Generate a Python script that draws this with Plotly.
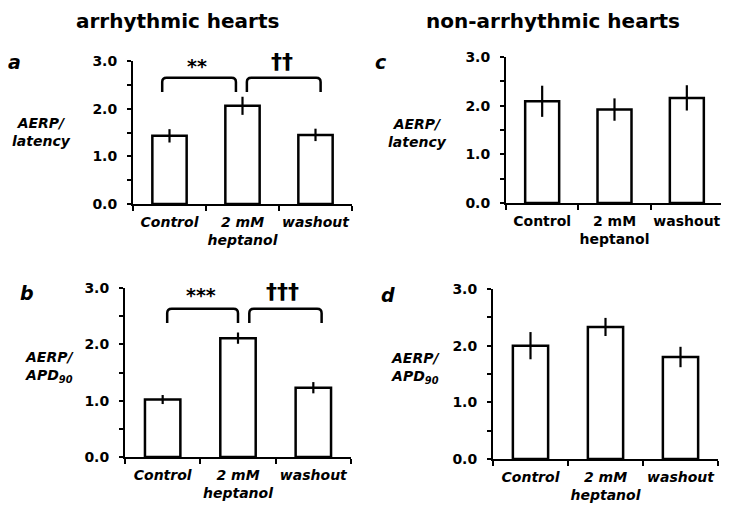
import plotly.graph_objects as go

# the page body adds an 8px margin, so the figure is shifted to line up with the reference
OFF = 8
W, H = 729 - OFF, 508 - OFF

# data
CATEGORIES = ["Control", "2 mM<br>heptanol", "washout"]
Y_TICKS = [0, 1, 2, 3]
Y_TICKTEXT = ["0.0", "1.0", "2.0", "3.0"]

A_MEAN = [1.43, 2.06, 1.45]
A_ERR = [0.14, 0.19, 0.13]
B_MEAN = [1.02, 2.11, 1.23]
B_ERR = [0.08, 0.10, 0.10]
C_MEAN = [2.09, 1.92, 2.16]
C_ERR = [0.32, 0.23, 0.26]
D_MEAN = [2.00, 2.33, 1.80]
D_ERR = [0.24, 0.16, 0.18]

A_SIG = ["**", "††"]
B_SIG = ["***", "†††"]

FONT = "DejaVu Sans"
BLACK = "#000000"


def px_x(p):
    return (p - OFF) / W


def px_y(p):
    return 1 - (p - OFF) / H


# panel geometry in page pixels: (left, right, top(3.0), bottom(0))
PANELS = {
    "a": dict(box=(133, 352, 61, 204), mean=A_MEAN, err=A_ERR, italic=True,
              letter=(14, 62), ylab=(41, 132), ylabel="AERP/<br>latency"),
    "c": dict(box=(506, 723, 57, 203), mean=C_MEAN, err=C_ERR, italic=False,
              letter=(381, 62), ylab=(417, 133), ylabel="AERP/<br>latency"),
    "b": dict(box=(125, 351, 288, 457), mean=B_MEAN, err=B_ERR, italic=True,
              letter=(27, 293), ylab=(49, 367), ylabel="AERP/<br>APD<sub>90</sub>"),
    "d": dict(box=(493, 718, 289, 459), mean=D_MEAN, err=D_ERR, italic=True,
              letter=(388, 295), ylab=(415, 368), ylabel="AERP/<br>APD<sub>90</sub>"),
}

fig = go.Figure()
xs = list(range(len(CATEGORIES)))

for i, (key, p) in enumerate(PANELS.items(), start=1):
    l, r, t, b = p["box"]
    xa = "x" if i == 1 else f"x{i}"
    ya = "y" if i == 1 else f"y{i}"
    fig.add_trace(go.Bar(
        x=xs, y=p["mean"], width=0.47,
        marker=dict(color="white", line=dict(color=BLACK, width=2.5)),
        error_y=dict(type="data", array=p["err"], visible=True,
                     color=BLACK, thickness=2.2, width=0),
        xaxis=xa, yaxis=ya, showlegend=False,
    ))
    xkey = "xaxis" if i == 1 else f"xaxis{i}"
    ykey = "yaxis" if i == 1 else f"yaxis{i}"
    fig.update_layout(**{
        xkey: dict(
            domain=[px_x(l), px_x(r)], range=[-0.5, 2.5], anchor=ya,
            automargin=False,
            tickmode="array", tickvals=xs, ticktext=CATEGORIES, ticks="",
            ticklabelstandoff=4,
            tickfont=dict(family=FONT, size=14, color=BLACK, weight="bold",
                          style="italic" if p["italic"] else "normal"),
            showline=True, linewidth=2, linecolor=BLACK, showgrid=False,
            zeroline=False, fixedrange=True,
            minor=dict(tick0=-0.5, dtick=1, ticks="outside", ticklen=5,
                       tickwidth=2, tickcolor=BLACK, showgrid=False),
        ),
        ykey: dict(
            domain=[px_y(b), px_y(t)], range=[0, 3], anchor=xa,
            automargin=False,
            tickmode="array", tickvals=Y_TICKS, ticktext=Y_TICKTEXT,
            ticks="outside", ticklen=4, tickwidth=2, tickcolor=BLACK,
            ticklabelstandoff=7,
            tickfont=dict(family=FONT, size=14, color=BLACK, weight="bold"),
            showline=True, linewidth=2, linecolor=BLACK, showgrid=False,
            zeroline=False, fixedrange=True,
            minor=dict(dtick=0.5, ticks="outside", ticklen=4, tickwidth=2,
                       tickcolor=BLACK, showgrid=False),
        ),
    })
    lx, ly = p["letter"]
    fig.add_annotation(x=px_x(lx), y=px_y(ly), xref="paper", yref="paper",
                       xanchor="center", yanchor="middle",
                       text=f"<b><i>{key}</i></b>", showarrow=False,
                       font=dict(family=FONT, size=19, color=BLACK))
    yx, yy = p["ylab"]
    fig.add_annotation(x=px_x(yx), y=px_y(yy), xref="paper", yref="paper",
                       xanchor="center", yanchor="middle",
                       text=f"<b><i>{p['ylabel']}</i></b>", showarrow=False,
                       font=dict(family=FONT, size=14, color=BLACK))


def bracket(xref, yref, x0, x1, ytop, ybot, rx=0.06, ry=0.09):
    path = (f"M {x0},{ybot} L {x0},{ytop - ry} Q {x0},{ytop} {x0 + rx},{ytop} "
            f"L {x1 - rx},{ytop} Q {x1},{ytop} {x1},{ytop - ry} L {x1},{ybot}")
    fig.add_shape(type="path", path=path, xref=xref, yref=yref,
                  line=dict(color=BLACK, width=2.5))


def sig_label(xref, yref, x, y, text, size):
    fig.add_annotation(x=x, y=y, xref=xref, yref=yref, text=f"<b>{text}</b>",
                       xanchor="center", yanchor="middle", showarrow=False,
                       font=dict(family=FONT, size=size, color=BLACK))


# significance brackets, panel a
bracket("x", "y", -0.10, 0.91, 2.65, 2.35)
bracket("x", "y", 1.06, 2.07, 2.65, 2.35)
sig_label("x", "y", 0.38, 2.89, A_SIG[0], 19)
sig_label("x", "y", 1.54, 2.98, A_SIG[1], 22)

# panel b
bracket("x3", "y3", 0.06, 1.00, 2.63, 2.38, ry=0.08)
bracket("x3", "y3", 1.15, 2.11, 2.63, 2.38, ry=0.08)
sig_label("x3", "y3", 0.51, 2.87, B_SIG[0], 19)
sig_label("x3", "y3", 1.59, 2.94, B_SIG[1], 22)

# column titles, kept inside the top edge
for cx, title in [(177, "arrhythmic hearts"), (553, "non-arrhythmic hearts")]:
    fig.add_annotation(x=px_x(cx), y=1, xref="paper", yref="paper",
                       xanchor="center", yanchor="top", borderpad=0,
                       text=f"<b>{title}</b>", showarrow=False,
                       font=dict(family=FONT, size=20, color=BLACK))

fig.update_layout(
    width=W, height=H,
    margin=dict(l=0, r=0, t=0, b=0),
    paper_bgcolor="white", plot_bgcolor="white",
    font=dict(family=FONT, color=BLACK),
)

fig.write_html("out.html")
